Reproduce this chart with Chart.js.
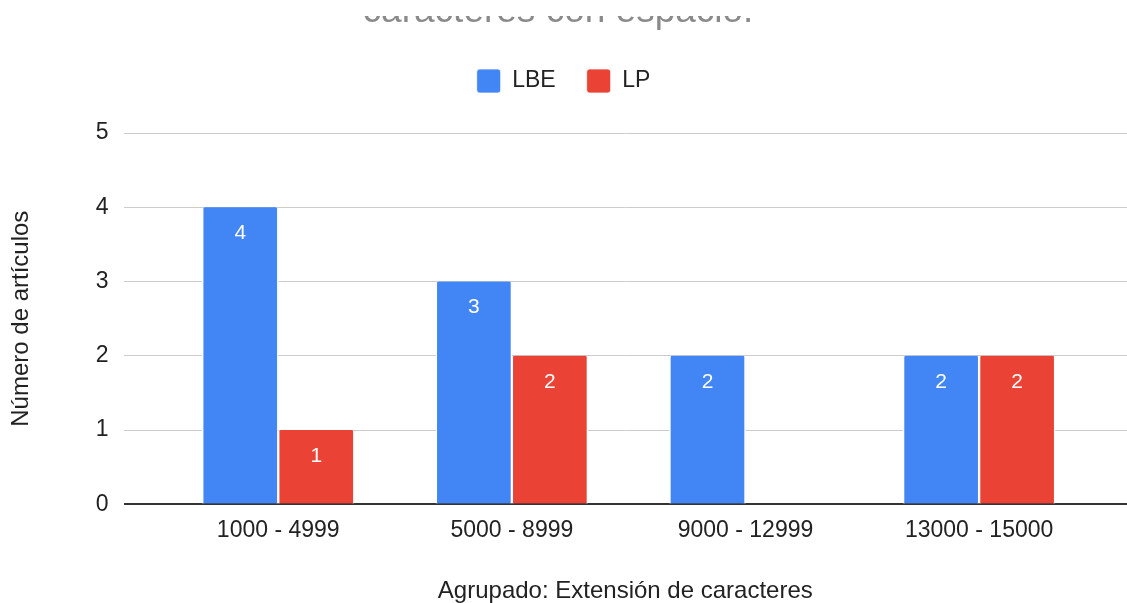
<!DOCTYPE html>
<html>
<head>
<meta charset="utf-8">
<script src="https://cdn.jsdelivr.net/npm/chart.js@4/dist/chart.umd.min.js"></script>
<style>
  html, body { margin: 0; padding: 0; background: #fff; overflow: hidden; }
  #wrap { position: relative; width: 1127px; height: 603px; }
</style>
</head>
<body>
<div id="wrap"><canvas id="c" width="1127" height="603"></canvas></div>
<script>
const chartTitle = "caracteres con espacio.";
const categories = ["1000 - 4999", "5000 - 8999", "9000 - 12999", "13000 - 15000"];
const seriesNames = ["LBE", "LP"];
const lbeValues = [4, 3, 2, 2];
const lpValues = [1, 2, 0, 2];
const yTicks = [0, 1, 2, 3, 4, 5];
const xTitle = "Agrupado: Extensión de caracteres";
const yTitle = "Número de artículos";

const FONT = "'Liberation Sans', Arial, sans-serif";
const BLUE = "#4285F4";
const RED = "#EA4335";

// Title is cut off at the top of the picture: only its lower strip shows.
const titlePlugin = {
  id: 'cutTitle',
  afterDraw(chart) {
    const ctx = chart.ctx;
    ctx.save();
    ctx.beginPath();
    ctx.rect(0, 16, chart.width, 20);
    ctx.clip();
    ctx.font = "37px " + FONT;
    ctx.fillStyle = "#8a8a8a";
    ctx.textAlign = "center";
    ctx.textBaseline = "alphabetic";
    ctx.fillText(chartTitle, 558, 22);
    ctx.restore();
  }
};

// Extra room below the legend row.
const legendGap = {
  id: 'legendGap',
  beforeLayout(chart) {
    const lg = chart.legend;
    if (lg && !lg._gapPatched) {
      const orig = lg.fit;
      lg.fit = function () { orig.call(this); this.height += 30; };
      lg._gapPatched = true;
    }
  }
};

const valueLabels = {
  id: 'valueLabels',
  afterDatasetsDraw(chart) {
    const ctx = chart.ctx;
    ctx.save();
    ctx.font = "21px " + FONT;
    ctx.fillStyle = "#ffffff";
    ctx.textAlign = "center";
    ctx.textBaseline = "middle";
    chart.data.datasets.forEach((ds, di) => {
      const meta = chart.getDatasetMeta(di);
      meta.data.forEach((el, i) => {
        const v = ds.data[i].y;
        if (v > 0) ctx.fillText(String(v), el.x, el.y + 26);
      });
    });
    ctx.restore();
  }
};

const toPoints = arr => arr.map((v, i) => ({ x: i, y: v }));

new Chart(document.getElementById('c'), {
  type: 'bar',
  data: {
    datasets: [
      { label: seriesNames[0], data: toPoints(lbeValues), backgroundColor: BLUE },
      { label: seriesNames[1], data: toPoints(lpValues), backgroundColor: RED }
    ]
  },
  options: {
    responsive: false,
    animation: false,
    events: [],
    datasets: {
      bar: {
        barThickness: 76,
        borderColor: "#ffffff",
        borderWidth: { left: 1.5, right: 1.5, top: 0, bottom: 0 },
        borderSkipped: 'bottom',
        borderRadius: { topLeft: 3, topRight: 3, bottomLeft: 0, bottomRight: 0 }
      }
    },
    layout: { padding: { top: 38, left: 0, right: 0, bottom: 0 } },
    plugins: {
      title: { display: false },
      tooltip: { enabled: false },
      legend: {
        display: true,
        position: 'top',
        labels: {
          boxWidth: 24,
          boxHeight: 24,
          padding: 31,
          color: "#222222",
          font: { family: FONT, size: 23 },
          useBorderRadius: true,
          borderRadius: 3
        }
      }
    },
    scales: {
      x: {
        type: 'linear',
        offset: false,
        min: -0.662,
        max: 3.633,
        grid: { display: false, drawTicks: false },
        border: { display: false },
        ticks: {
          stepSize: 1,
          includeBounds: false,
          autoSkip: false,
          maxRotation: 0,
          padding: 12,
          color: "#222222",
          font: { family: FONT, size: 23 },
          callback: v => (Number.isInteger(v) && categories[v] !== undefined) ? categories[v] : ''
        },
        title: {
          display: true,
          text: xTitle,
          color: "#222222",
          font: { family: FONT, size: 24, lineHeight: 1 },
          padding: { top: 23, bottom: 0 }
        }
      },
      y: {
        min: yTicks[0],
        max: yTicks[yTicks.length - 1],
        afterBuildTicks: axis => { axis.ticks = yTicks.map(v => ({ value: v })); },
        border: { display: false },
        grid: {
          drawTicks: false,
          color: c => c.tick && c.tick.value === 0 ? "#333333" : "#cccccc",
          lineWidth: c => c.tick && c.tick.value === 0 ? 2 : 1
        },
        ticks: {
          padding: 15,
          color: "#222222",
          font: { family: FONT, size: 23 }
        },
        title: {
          display: true,
          text: yTitle,
          color: "#222222",
          font: { family: FONT, size: 24 },
          padding: { top: 7, bottom: 45 }
        }
      }
    }
  },
  plugins: [legendGap, titlePlugin, valueLabels]
});
</script>
</body>
</html>
